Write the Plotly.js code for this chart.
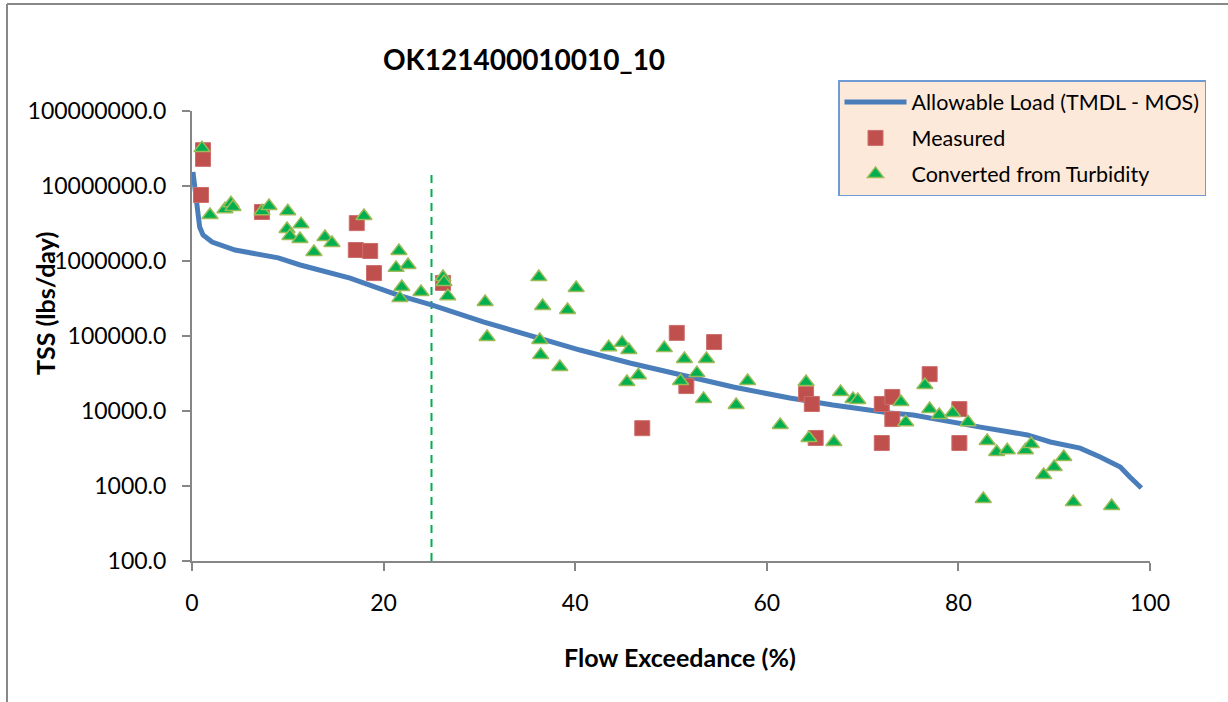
<!DOCTYPE html>
<html><head><meta charset="utf-8">
<script src="https://cdn.plot.ly/plotly-3.0.1.min.js"></script>
<style>html,body{margin:0;padding:0;background:#fff;overflow:hidden}#chart{width:1228px;height:702px}</style>
</head><body><div id="chart"></div>
<script>
// Allowable load curve (TMDL - MOS)
const flowPct = [0.1, 0.5, 0.8, 1.15, 2.1, 4.5, 9.0, 11.3, 14.4, 16.5, 21.5, 25.0, 30.4, 36.0, 40.5, 45.7, 49.6, 56.5, 62.4, 66.9, 72.9, 75.3, 82.3, 87.2, 89.6, 92.7, 94.8, 96.9, 97.9, 99.1];
const allowable = [1.54e7, 5.9e6, 2.84e6, 2.22e6, 1.79e6, 1.40e6, 1.10e6, 8.85e5, 6.9e5, 5.9e5, 3.5e5, 2.6e5, 1.54e5, 9.4e4, 6.5e4, 4.37e4, 3.31e4, 2.09e4, 1.49e4, 1.2e4, 9.4e3, 8.85e3, 6.1e3, 4.8e3, 3.86e3, 3.2e3, 2.44e3, 1.79e3, 1.32e3, 940];

// Measured TSS
const measX = [1.15, 1.15, 0.94, 7.3, 17.2, 17.1, 18.6, 19.0, 26.2, 50.6, 54.5, 47.0, 51.6, 64.1, 64.7, 65.1, 77.0, 72.0, 73.1, 73.1, 72.0, 80.1, 80.1];
const measY = [3.0e7, 2.3e7, 7.6e6, 4.5e6, 3.2e6, 1.4e6, 1.36e6, 6.9e5, 5.1e5, 1.1e5, 8.3e4, 5.9e3, 2.15e4, 1.69e4, 1.24e4, 4.37e3, 3.1e4, 1.24e4, 1.54e4, 7.8e3, 3.74e3, 1.06e4, 3.74e3];

// Converted from turbidity
const turbX = [1.04, 1.88, 3.44, 4.07, 4.28, 7.31, 8.04, 10.0, 9.92, 10.23, 11.38, 11.27, 12.73, 13.88, 14.61, 17.95, 21.6, 21.3, 22.55, 21.9, 21.7, 23.9, 26.2, 26.3, 26.7, 30.6, 30.8, 36.2, 36.6, 40.1, 39.2, 36.3, 36.4, 38.4, 43.5, 44.9, 45.6, 45.4, 46.6, 49.3, 51.4, 53.7, 52.7, 51.0, 53.4, 58.0, 56.8, 61.4, 64.1, 64.4, 67.0, 67.7, 69.0, 69.5, 74.0, 74.5, 76.5, 77.0, 78.0, 79.4, 81.0, 82.6, 83.0, 84.0, 85.1, 87.0, 87.6, 88.9, 90.0, 91.0, 92.0, 96.0];
const turbY = [3.2e7, 4.1e6, 4.9e6, 5.9e6, 5.25e6, 4.6e6, 5.4e6, 4.6e6, 2.67e6, 2.15e6, 3.1e6, 1.96e6, 1.32e6, 2.09e6, 1.74e6, 3.98e6, 1.36e6, 8.1e5, 8.85e5, 4.5e5, 3.2e5, 3.86e5, 6.1e5, 5.25e5, 3.4e5, 2.84e5, 9.7e4, 6.1e5, 2.51e5, 4.37e5, 2.22e5, 8.85e4, 5.6e4, 3.86e4, 7.1e4, 8.1e4, 6.5e4, 2.44e4, 3.0e4, 6.9e4, 4.93e4, 4.93e4, 3.2e4, 2.51e4, 1.45e4, 2.51e4, 1.2e4, 6.5e3, 2.44e4, 4.37e3, 3.86e3, 1.79e4, 1.45e4, 1.4e4, 1.32e4, 7.1e3, 2.22e4, 1.06e4, 8.85e3, 9.4e3, 7.1e3, 670, 3.98e3, 2.84e3, 3.0e3, 3.0e3, 3.63e3, 1.4e3, 1.79e3, 2.44e3, 610, 540];

// Reference flow exceedance marker
const refLineX = [25, 25];
const refLineY = [100, 1.63e7];

const yTickVals = [100, 1000, 10000, 100000, 1000000, 10000000, 100000000];
const yTickText = ["100.0", "1000.0", "10000.0", "100000.0", "1000000.0", "10000000.0", "100000000.0"];
const xTickVals = [0, 20, 40, 60, 80, 100];
const xTickText = ["0", "20", "40", "60", "80", "100"];

const FONT = "Lato, 'Open Sans', sans-serif";

const traces = [
  {x: refLineX, y: refLineY, mode: 'lines', showlegend: false, hoverinfo: 'skip',
   line: {color: '#00B050', width: 2, dash: '8px,6px'}},
  {x: flowPct, y: allowable, mode: 'lines', name: 'Allowable Load (TMDL - MOS)', legendgroup: 'a',
   line: {color: '#4A7EBB', width: 5}},
  {x: measX, y: measY, mode: 'markers', name: 'Measured', legendgroup: 'b',
   marker: {symbol: 'square', size: 15, color: '#C0504D', line: {color: '#CD6E6B', width: 1}}},
  {x: turbX, y: turbY, mode: 'markers', name: 'Converted from Turbidity', legendgroup: 'c',
   marker: {symbol: 'triangle-up', size: 14, color: '#00B050', line: {color: '#9BBB59', width: 1.5}}}
];

const axisCommon = {
  showline: true, linecolor: '#868686', linewidth: 2,
  ticks: 'outside', ticklen: 8, tickwidth: 2, tickcolor: '#868686',
  showgrid: false, zeroline: false,
  tickfont: {family: FONT, size: 23, color: '#000'}
};

const layout = {
  width: 1228, height: 702,
  margin: {l: 192, r: 78, t: 111, b: 141},
  paper_bgcolor: '#fff', plot_bgcolor: '#fff',
  font: {family: FONT, color: '#000'},
  title: {text: 'OK121400010010_10', x: 524/1228, xref: 'container', xanchor: 'center',
          y: 1 - 60/702, yref: 'container', yanchor: 'middle',
          font: {family: FONT, size: 28, weight: 'bold', color: '#000'}},
  xaxis: Object.assign({}, axisCommon, {range: [0, 100], tickvals: xTickVals, ticktext: xTickText, ticklabelstandoff: 12}),
  yaxis: Object.assign({}, axisCommon, {type: 'log', range: [2, 8], tickvals: yTickVals, ticktext: yTickText, ticklabelstandoff: 11}),
  legend: {x: (838-192)/958, y: (561-80)/450, xanchor: 'left', yanchor: 'top',
           bgcolor: '#FDE9D9', bordercolor: '#6F9AD3', borderwidth: 1.5,
           font: {family: FONT, size: 21.5, color: '#000'},
           traceorder: 'grouped', tracegroupgap: 5, itemwidth: 62},
  annotations: [
    {text: 'TSS (lbs/day)', xref: 'paper', yref: 'paper', x: (45-192)/958, y: (561-304)/450,
     textangle: -90, showarrow: false, xanchor: 'center', yanchor: 'middle',
     font: {family: FONT, size: 25, weight: 'bold', color: '#000'}},
    {text: 'Flow Exceedance (%)', xref: 'paper', yref: 'paper', x: (680-192)/958, y: (561-657)/450,
     showarrow: false, xanchor: 'center', yanchor: 'middle',
     font: {family: FONT, size: 25, weight: 'bold', color: '#000'}}
  ],
  shapes: [
    {type: 'line', xref: 'paper', yref: 'paper', x0: (7-192)/958, x1: (7-192)/958, y0: (561-720)/450, y1: (561-4)/450,
     line: {color: '#888888', width: 2}},
    {type: 'line', xref: 'paper', yref: 'paper', x0: (7-192)/958, x1: (1240-192)/958, y0: (561-4)/450, y1: (561-4)/450,
     line: {color: '#888888', width: 2}}
  ]
};

Plotly.newPlot('chart', traces, layout, {displayModeBar: false, staticPlot: true});
</script></body></html>
